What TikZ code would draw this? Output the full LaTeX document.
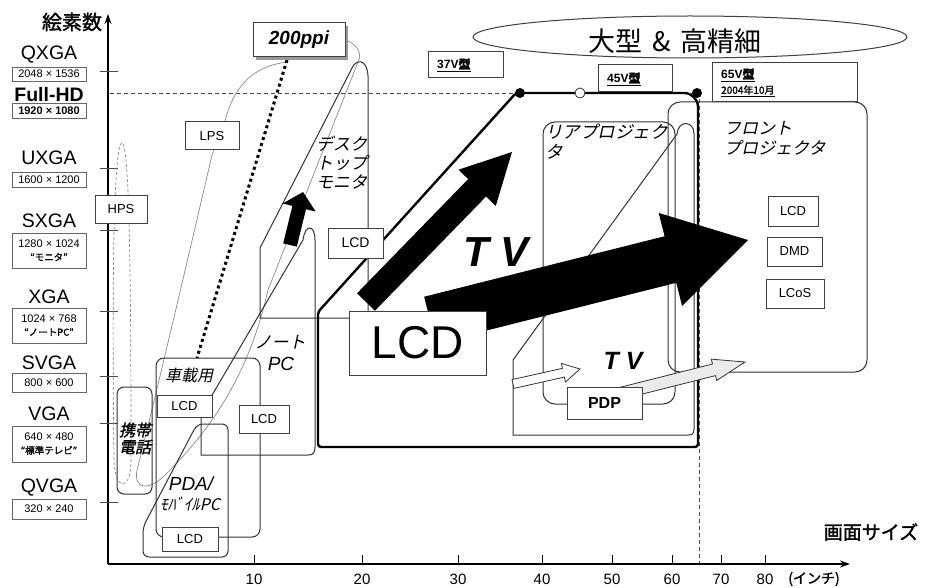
\documentclass[tikz,border=0pt]{standalone}
\usepackage{fontspec}
\setmainfont{Liberation Sans}
\newfontfamily\jp{Noto Sans CJK JP}
\newfontfamily\jpi[FakeSlant=0.22]{Noto Sans CJK JP}
\newfontfamily\jpb[FakeBold=1.5]{Noto Sans CJK JP}
\newfontfamily\jpbi[FakeBold=1.5,FakeSlant=0.22]{Noto Sans CJK JP}
\usetikzlibrary{calc,arrows.meta,shapes.geometric}
\newcommand\fsz[1]{\fontsize{#1}{#1}\selectfont}
\newcommand\blockarr[6]{%
  \coordinate (baS) at #1; \coordinate (baT) at #2;
  \coordinate (baH) at ($(baT)!#5!(baS)$);
  \path[#6] ($(baS)!#3!90:(baT)$) -- ($(baH)!#3!90:(baT)$) -- ($(baH)!#4!90:(baT)$) -- (baT)
    -- ($(baH)!#4!-90:(baT)$) -- ($(baH)!#3!-90:(baT)$) -- ($(baS)!#3!-90:(baT)$) -- cycle;}
\tikzset{
  lbl/.style={draw=black!60, line width=0.9pt, fill=white, inner sep=0pt, minimum width=74pt, align=center},
  bx/.style={draw=black!75, line width=1pt, fill=white, inner sep=0pt},
  reg/.style={draw=black!80, line width=1pt},
  thickreg/.style={draw=black, line width=2.4pt},
  lobe/.style={draw=black!45, line width=0.7pt},
  txt/.style={inner sep=0pt},
}
\begin{document}
\begin{tikzpicture}[x=1pt,y=-1pt]
\useasboundingbox (0,0) rectangle (931,588);
\fill[white] (0,0) rectangle (931,588);

% axes
\coordinate (O) at (108,564);
\coordinate (ytop) at (108,14);
\coordinate (xend) at (850,564);
\draw[line width=1.6pt, -{Stealth[length=10pt,width=7pt]}] (O) -- (ytop);
\draw[line width=1.6pt, -{Stealth[length=10pt,width=7pt]}] (O) -- (xend);
\foreach \y in {71,168,230,311,376,423,502} \draw[line width=0.8pt, black!70] (100,\y) -- (118,\y);
\foreach \x/\l in {254/10,362/20,458/30,542/40,612/50,672/60,721/70,765/80} {
  \draw[line width=0.8pt] (\x,555) -- (\x,564);
  \node[txt, font=\fsz{15}] (xt\l) at (\x,579) {\l};}
\node[txt, font=\jpb\fsz{14}] (unit) at (814,579) {(インチ)};
\node[txt, font=\jpb\fsz{19}] (xlab) at (871,532) {画面サイズ};
\node[txt, font=\jpb\fsz{20}] (ttl) at (72,22) {絵素数};

% left labels
\node[txt, font=\fsz{19.5}] (qxga) at (49,55) {QXGA};
\node[lbl, minimum height=14pt, font=\fsz{11}] (qxgab) at (49,74) {2048 × 1536};
\node[txt, font=\bfseries\fsz{19.5}] (fhd) at (49,95) {Full-HD};
\node[lbl, minimum height=15pt, font=\bfseries\fsz{11}] (fhdb) at (49,110.5) {1920 × 1080};
\node[txt, font=\fsz{19.5}] (uxga) at (49,158) {UXGA};
\node[lbl, minimum height=15pt, font=\fsz{11}] (uxgab) at (49,179.5) {1600 × 1200};
\node[txt, font=\fsz{19.5}] (sxga) at (49,221) {SXGA};
\node[lbl, minimum height=35pt] (sxgab) at (49,250.5) {{\fsz{11}1280 × 1024}\\[1pt]{\jpb\fsz{9.5}“モニタ”}};
\node[txt, font=\fsz{19.5}] (xga) at (49,297) {XGA};
\node[lbl, minimum height=35pt] (xgab) at (49,325.5) {{\fsz{11}1024 × 768}\\[1pt]{\jpb\fsz{9.5}“ノートPC”}};
\node[txt, font=\fsz{19.5}] (svga) at (49,363) {SVGA};
\node[lbl, minimum height=19pt, font=\fsz{11}] (svgab) at (49,382.5) {800 × 600};
\node[txt, font=\fsz{19.5}] (vga) at (49,414) {VGA};
\node[lbl, minimum height=36pt] (vgab) at (49,444) {{\fsz{11}640 × 480}\\[1pt]{\jpb\fsz{9.5}“標準テレビ”}};
\node[txt, font=\fsz{19.5}] (qvga) at (49,488) {QVGA};
\node[lbl, minimum height=20pt, font=\fsz{11}] (qvgab) at (49,509) {320 × 240};

% Full-HD dashed lines
\coordinate (fhdL) at (110,93);
\coordinate (fhdC) at (699,93);
\coordinate (fhdB) at (699,563);
\draw[black!70, line width=0.8pt, dash pattern=on 4pt off 3pt] (fhdL) -- (fhdC) -- (fhdB);

% big ellipse
\node[draw=black!75, line width=1pt, ellipse, minimum width=434pt, minimum height=42pt, inner sep=0] (bigE) at (690,37) {};
\node[txt, font=\jp\fsz{27}] (bigT) at (675,41) {大型\hspace{0.35em}\&\hspace{0.35em}高精細};

% gray lobes
\draw[lobe, densely dashed] (122,143) .. controls (113,143) and (112,300) .. (114,460)
  .. controls (115,492) and (131,492) .. (131,460) .. controls (131,300) and (130,143) .. (122,143);
\coordinate (apex) at (358,62);
\draw[lobe] (288,62) .. controls (250,66) and (232,90) .. (224,125) -- (212,155)
  .. controls (190,250) and (150,420) .. (137,470) .. controls (133,490) and (150,492) .. (168,472)
  .. controls (215,425) and (250,370) .. (268,290) -- (apex);

% regions
\draw[reg, rounded corners=7pt] (117,387) rectangle (152,494);
\draw[reg, rounded corners=8pt] (156,358) rectangle (260,537);
\draw[reg, rounded corners=6pt] (143,557) -- (143,527) -- (197,424) -- (228,424) -- (228,557) -- cycle;
\draw[reg] (201,455) -- (201,414) -- (303,240) .. controls (305,224) and (315,224) .. (315,240)
  -- (315,447) .. controls (315,453) and (313,455) .. (308,455) -- cycle;
\draw[reg] (260,318) -- (260,248) -- (352,68) .. controls (356,59) and (367,58) .. (368,76) -- (368,318) -- cycle;
\draw[reg, rounded corners=12pt] (543,122) rectangle (675,404);
\draw[reg] (513,435) -- (513,360) -- (677,134) .. controls (678,120) and (694,120) .. (694,134)
  -- (694,429) .. controls (694,434) and (692,435) .. (688,435) -- cycle;
\draw[reg, rounded corners=12pt] (668,102) rectangle (867,372);
\draw[thickreg, rounded corners=3pt] (318,447) -- (318,312) -- (516,93) [rounded corners=14pt] -- (698,93) [rounded corners=3pt] -- (698,447) -- cycle;
\node[circle, fill=black, inner sep=0, minimum size=10pt] (dot1) at (520,93) {};
\node[circle, draw=black!80, fill=white, line width=0.8pt, inner sep=0, minimum size=10pt] (dot2) at (580,93) {};
\node[circle, fill=black, inner sep=0, minimum size=10pt] (dot3) at (697,93) {};

% thick dotted 200ppi line
\coordinate (dotTop) at (287,60);
\coordinate (dotBot) at (197,358);
\draw[line width=3pt, dash pattern=on 3pt off 3.2pt] (dotTop) -- (dotBot);

% black arrows
\blockarr{(290,245)}{(303,192)}{7pt}{17pt}{16pt}{fill=black}
\blockarr{(366,302)}{(512,152)}{12.5pt}{26pt}{50pt}{fill=black}
\blockarr{(430,320)}{(748,240)}{24pt}{48pt}{80pt}{fill=black}
% hollow arrows
\blockarr{(513,384)}{(580,369)}{4.5pt}{9.5pt}{17pt}{draw=black!80, line width=0.8pt, fill=white}
\blockarr{(622,393)}{(745,362)}{6pt}{11pt}{32pt}{draw=black!80, line width=0.8pt, fill=black!8}

% 200ppi box
\node[fill=black!40, inner sep=0, minimum width=92pt, minimum height=34pt] (ppish) at (302,43) {};
\node[bx, minimum width=92pt, minimum height=34pt, font=\bfseries\itshape\fsz{19}] (ppi) at (299,40) {200ppi};
\draw[lobe] (ppi.east) .. controls (356,44) and (363,52) .. (apex);

% boxes
\node[bx, minimum width=54pt, minimum height=28pt, font=\fsz{13}] (lps) at (212,136) {LPS};
\node[bx, minimum width=52pt, minimum height=27pt, font=\fsz{13}] (hps) at (121,209.5) {HPS};
\node[bx, minimum width=55pt, minimum height=30pt, font=\fsz{14}] (lcdd) at (355.5,243) {LCD};
\node[bx, minimum width=55pt, minimum height=22pt, font=\fsz{13}] (lcdc) at (184.5,406) {LCD};
\node[bx, minimum width=50pt, minimum height=28pt, font=\fsz{13}] (lcdn) at (264,419) {LCD};
\node[bx, minimum width=56pt, minimum height=24pt, font=\fsz{13}] (lcdp) at (190,539) {LCD};
\node[bx, minimum width=137pt, minimum height=64pt, font=\fsz{46}] (lcdbig) at (417.5,343) {LCD};
\node[bx, minimum width=75pt, minimum height=32pt, font=\bfseries\fsz{16}] (pdp) at (604.5,403) {PDP};
\node[bx, minimum width=50pt, minimum height=29pt, font=\fsz{13}] (fplcd) at (793,211.5) {LCD};
\node[bx, minimum width=55pt, minimum height=29pt, font=\fsz{13}] (fpdmd) at (794.5,251.5) {DMD};
\node[bx, minimum width=58pt, minimum height=29pt, font=\fsz{13}] (fplcos) at (795,293.5) {LCoS};
\node[bx, minimum width=75pt, minimum height=26pt] (v37) at (465.5,65) {};
\node[txt, anchor=west, font=\bfseries\fsz{12}] (v37t) at (437,65) {\underline{37V{\jpb 型}}};
\node[bx, minimum width=74pt, minimum height=27pt] (v45) at (635,78.5) {};
\node[txt, anchor=west, font=\bfseries\fsz{12}] (v45t) at (607,79) {\underline{45V{\jpb 型}}};
\node[bx, minimum width=145pt, minimum height=39pt] (v65) at (784.5,82.5) {};
\node[txt, anchor=west, font=\bfseries\fsz{12}] (v65t) at (721,75) {\underline{65V{\jpb 型}}};
\node[txt, anchor=west, font=\jpb\fsz{10}] (v65d) at (721,91) {\underline{2004年10月}};

% region texts
\node[txt, anchor=north west, align=left, font=\jpi\fontsize{17}{19}\selectfont] (dtxt) at (316,136) {デスク\\トップ\\モニタ};
\node[txt, anchor=north west, align=left, font=\jpi\fontsize{17.5}{20}\selectfont] (rtxt) at (545,124) {リアプロジェク\\タ};
\node[txt, anchor=north west, align=left, font=\jpi\fontsize{17}{20}\selectfont] (ftxt) at (724,121) {フロント\\プロジェクタ};
\node[txt, font=\jpi\fsz{17}] (ntxt) at (280,342) {ノート};
\node[txt, font=\itshape\fsz{19}] (pctxt) at (281,364) {PC};
\node[txt, font=\jpi\fsz{16}] (ctxt) at (189,375) {車載用};
\node[txt, font=\itshape\fsz{19}] (pdatxt) at (191,484) {PDA/};
\node[txt, font=\jpi\fsz{16}] (mbtxt) at (190,504) {ﾓﾊﾞｲﾙPC};
\node[txt, font=\jpbi\fsz{16}] (k1) at (135,430) {携帯};
\node[txt, font=\jpbi\fsz{16}] (k2) at (135,447) {電話};
\node[txt, font=\bfseries\itshape\fsz{42}] (tvbig) at (496,252) {T V};
\node[txt, font=\bfseries\itshape\fsz{25}] (tvsm) at (623,361) {T V};
\end{tikzpicture}
\end{document}
